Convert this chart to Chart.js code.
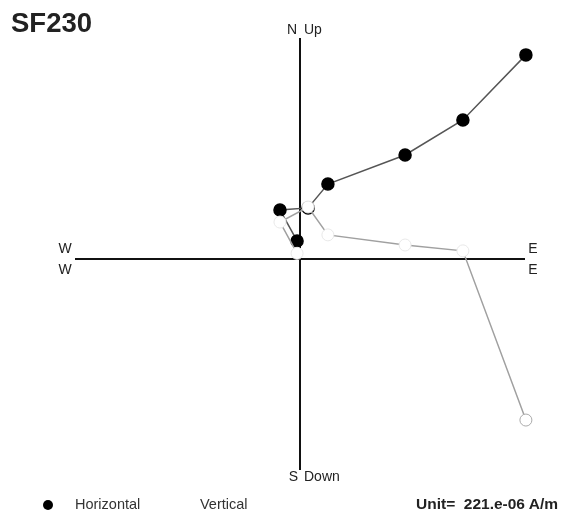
<!DOCTYPE html>
<html>
<head>
<meta charset="utf-8">
<script src="https://cdn.jsdelivr.net/npm/chart.js@4.4.1/dist/chart.umd.min.js"></script>
<style>
  body { margin: 0; background: #fff; font-family: "Liberation Sans", Arial, sans-serif; }
  .wrap { position: relative; width: 571px; height: 520px; }
  #zijd { position: absolute; left: 0; top: 0; }
  .title { position: absolute; left: 11px; top: 7px; font-size: 27.5px; font-weight: bold; color: #222; }
  .legend { position: absolute; top: 496px; font-size: 14.5px; color: #333; }
  .dot { display: inline-block; width: 10px; height: 10px; border-radius: 50%; background: #000; vertical-align: -1px; margin-right: 22px; }
  .unit { position: absolute; right: 13px; top: 495px; font-size: 15.5px; font-weight: bold; color: #222; }
</style>
</head>
<body>
<div class="wrap">
  <canvas id="zijd" width="571" height="520"></canvas>
  <div class="title">SF230</div>
  <div class="legend" style="left:43px"><span class="dot"></span>Horizontal</div>
  <div class="legend" style="left:200px">Vertical</div>
  <div class="unit">Unit=&nbsp; 221.e-06 A/m</div>
</div>
<script>
// Các bước khử từ (đơn vị chuẩn hoá theo trục)
const eastValues = [1.004, 0.724, 0.467, 0.124, 0.036, -0.089, -0.013];
const northValues = [0.907, 0.618, 0.462, 0.333, 0.227, 0.218, 0.080];
const upValues = [-0.716, 0.036, 0.062, 0.107, 0.231, 0.164, 0.025];

// Giới hạn trục
const xLimits = [-1, 1];
const yLimits = [-0.938, 0.982];

const horizontalPts = eastValues.map((e, i) => ({ x: e, y: northValues[i] }));
const verticalPts = eastValues.map((e, i) => ({ x: e, y: upValues[i] }));

// Vẽ trục chữ thập + nhãn hướng
const crossAxes = {
  id: 'crossAxes',
  beforeDatasetsDraw(chart) {
    const { ctx, scales: { x, y } } = chart;
    const x0 = x.getPixelForValue(0), y0 = y.getPixelForValue(0);
    const left = x.getPixelForValue(xLimits[0]), right = x.getPixelForValue(xLimits[1]);
    const top = y.getPixelForValue(yLimits[1]), bottom = y.getPixelForValue(yLimits[0]);
    ctx.save();
    ctx.strokeStyle = '#111';
    ctx.lineWidth = 2;
    ctx.beginPath();
    ctx.moveTo(left, y0); ctx.lineTo(right, y0);
    ctx.moveTo(x0, top); ctx.lineTo(x0, bottom);
    ctx.stroke();

    ctx.fillStyle = '#222';
    ctx.font = '14px "Liberation Sans", Arial, sans-serif';
    ctx.textBaseline = 'middle';
    ctx.textAlign = 'center';
    ctx.fillText('W', left - 10, y0 - 10);
    ctx.fillText('W', left - 10, y0 + 11);
    ctx.fillText('E', right + 8, y0 - 10);
    ctx.fillText('E', right + 8, y0 + 11);
    ctx.textAlign = 'right';
    ctx.fillText('N', x0 - 3, top - 8);
    ctx.fillText('S', x0 - 2, bottom + 7);
    ctx.textAlign = 'left';
    ctx.fillText('Up', x0 + 4, top - 8);
    ctx.fillText('Down', x0 + 4, bottom + 7);
    ctx.restore();
  }
};

new Chart(document.getElementById('zijd'), {
  type: 'scatter',
  data: {
    datasets: [
      {
        label: 'Vertical',
        data: verticalPts,
        showLine: true,
        borderColor: '#a0a0a0',
        borderWidth: 1.5,
        pointRadius: 6,
        pointBackgroundColor: '#fff',
        pointBorderColor: c => c.dataIndex === 0 ? '#aaa' : '#e8e8e8',
        pointBorderWidth: 1,
        clip: false,
        order: 1
      },
      {
        label: 'Horizontal',
        data: horizontalPts,
        showLine: true,
        borderColor: '#555',
        borderWidth: 1.5,
        pointRadius: 6,
        pointBackgroundColor: '#000',
        pointBorderColor: '#000',
        clip: false,
        order: 2
      }
    ]
  },
  options: {
    responsive: false,
    animation: false,
    layout: { padding: { left: 75, right: 46, top: 38, bottom: 50 } },
    scales: {
      x: { type: 'linear', min: xLimits[0], max: xLimits[1], display: false },
      y: { type: 'linear', min: yLimits[0], max: yLimits[1], display: false }
    },
    plugins: {
      legend: { display: false },
      tooltip: { enabled: false }
    }
  },
  plugins: [crossAxes]
});
</script>
</body>
</html>
